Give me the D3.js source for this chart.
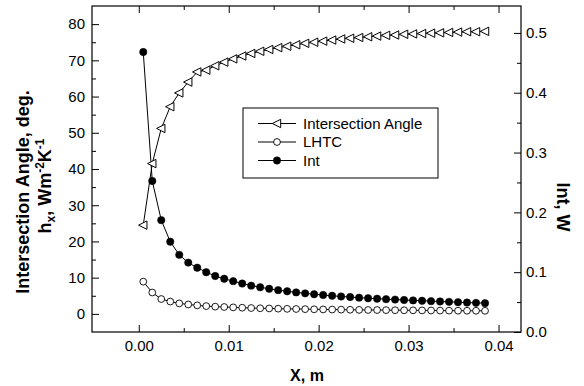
<!DOCTYPE html>
<html>
<head>
<meta charset="utf-8">
<script src="https://cdn.jsdelivr.net/npm/d3@7"></script>
<style>
  body { margin: 0; background: #fff; }
  svg { display: block; }
  text { font-family: "Liberation Sans", Arial, sans-serif; fill: #000; }
</style>
</head>
<body>
<svg id="chart" width="584" height="386"></svg>
<script>
// Distance along the surface, m
const xPositions = [
  0.0005, 0.0015, 0.0025, 0.0035, 0.0045, 0.0055, 0.0065, 0.0075, 0.0085, 0.0095,
  0.0105, 0.0115, 0.0125, 0.0135, 0.0145, 0.0155, 0.0165, 0.0175, 0.0185, 0.0195,
  0.0205, 0.0215, 0.0225, 0.0235, 0.0245, 0.0255, 0.0265, 0.0275, 0.0285, 0.0295,
  0.0305, 0.0315, 0.0325, 0.0335, 0.0345, 0.0355, 0.0365, 0.0375, 0.0385
];
// Intersection angle, deg (left axis)
const intersectionAngle = [
  24.5, 41.5, 51.2, 57.2, 61.0, 64.0, 66.8, 67.3, 68.5, 69.5,
  70.4, 71.2, 71.9, 72.5, 73.0, 73.5, 73.9, 74.3, 74.7, 75.0,
  75.3, 75.6, 75.9, 76.1, 76.3, 76.5, 76.7, 76.9, 77.0, 77.2,
  77.3, 77.4, 77.5, 77.6, 77.7, 77.8, 77.9, 77.9, 78.0
];
// Local heat transfer coefficient, W m^-2 K^-1 (left axis)
const lhtc = [
  8.9, 5.9, 4.1, 3.4, 2.9, 2.6, 2.35, 2.15, 2.0, 1.9,
  1.8, 1.7, 1.62, 1.55, 1.5, 1.44, 1.39, 1.35, 1.31, 1.27,
  1.23, 1.2, 1.17, 1.14, 1.11, 1.08, 1.06, 1.04, 1.02, 1.0,
  0.98, 0.96, 0.94, 0.92, 0.9, 0.88, 0.87, 0.86, 0.85
];
// Int, W (right axis)
const intPower = [
  0.468, 0.2525, 0.187, 0.151, 0.129, 0.116, 0.1075, 0.100, 0.0936, 0.089,
  0.085, 0.081, 0.0775, 0.0748, 0.0722, 0.070, 0.068, 0.0662, 0.0646, 0.0631,
  0.0618, 0.0605, 0.0594, 0.0584, 0.0574, 0.0565, 0.0557, 0.0549, 0.0542, 0.0535,
  0.0528, 0.0522, 0.0516, 0.051, 0.0504, 0.0498, 0.0492, 0.0487, 0.0482
];

const xTicks = [0, 0.01, 0.02, 0.03, 0.04];
const xTickLabels = ["0.00", "0.01", "0.02", "0.03", "0.04"];
const xMinorTicks = [0.005, 0.015, 0.025, 0.035];
const leftTicks = [0, 10, 20, 30, 40, 50, 60, 70, 80];
const leftMinorTicks = [5, 15, 25, 35, 45, 55, 65, 75];
const rightTicks = [0, 0.1, 0.2, 0.3, 0.4, 0.5];
const rightTickLabels = ["0.0", "0.1", "0.2", "0.3", "0.4", "0.5"];
const rightMinorTicks = [0.05, 0.15, 0.25, 0.35, 0.45];
const legendLabels = ["Intersection Angle", "LHTC", "Int"];

const svg = d3.select("#chart");
const frame = { left: 92, right: 521, top: 6, bottom: 332 };

const x = d3.scaleLinear().domain([-0.0052, 0.0425]).range([frame.left, frame.right]);
const yL = d3.scaleLinear().domain([-5, 85]).range([frame.bottom, frame.top]);
const yR = d3.scaleLinear().domain([0, 0.545]).range([frame.bottom, frame.top]);

const tickFont = "15px";

function styleAxis(g) {
  g.select(".domain").remove();
  g.selectAll(".tick line").attr("stroke", "#000").attr("stroke-width", 1);
  g.selectAll(".tick text").style("font-size", tickFont).attr("fill", "#000");
}

// Bottom axis (major + minor, ticks pointing inward)
svg.append("g").attr("transform", `translate(0,${frame.bottom})`)
  .call(d3.axisBottom(x).tickValues(xTicks).tickSize(-7).tickPadding(8)
    .tickFormat((d, i) => xTickLabels[i]))
  .call(styleAxis);
svg.append("g").attr("transform", `translate(0,${frame.bottom})`)
  .call(d3.axisBottom(x).tickValues(xMinorTicks).tickSize(-4).tickFormat(""))
  .call(styleAxis);
// Top axis mirrors the bottom ticks
svg.append("g").attr("transform", `translate(0,${frame.top})`)
  .call(d3.axisTop(x).tickValues(xTicks).tickSize(-7).tickFormat(""))
  .call(styleAxis);
svg.append("g").attr("transform", `translate(0,${frame.top})`)
  .call(d3.axisTop(x).tickValues(xMinorTicks).tickSize(-4).tickFormat(""))
  .call(styleAxis);

// Left axis
svg.append("g").attr("transform", `translate(${frame.left},0)`)
  .call(d3.axisLeft(yL).tickValues(leftTicks).tickSize(-7).tickPadding(7))
  .call(styleAxis);
svg.append("g").attr("transform", `translate(${frame.left},0)`)
  .call(d3.axisLeft(yL).tickValues(leftMinorTicks).tickSize(-4).tickFormat(""))
  .call(styleAxis);

// Right axis
svg.append("g").attr("transform", `translate(${frame.right},0)`)
  .call(d3.axisRight(yR).tickValues(rightTicks).tickSize(-7).tickPadding(5)
    .tickFormat((d, i) => rightTickLabels[i]))
  .call(styleAxis);
svg.append("g").attr("transform", `translate(${frame.right},0)`)
  .call(d3.axisRight(yR).tickValues(rightMinorTicks).tickSize(-4).tickFormat(""))
  .call(styleAxis);

// Plot frame
svg.append("rect")
  .attr("x", frame.left).attr("y", frame.top)
  .attr("width", frame.right - frame.left).attr("height", frame.bottom - frame.top)
  .attr("fill", "none").attr("stroke", "#000").attr("stroke-width", 1.2);

// Series
const series = [
  { values: intersectionAngle, y: yL, marker: "triangle" },
  { values: lhtc, y: yL, marker: "open" },
  { values: intPower, y: yR, marker: "filled" }
];

const trianglePath = "M-4.7,0L3.7,-4.2L3.7,4.2Z";

function drawMarker(sel, type) {
  if (type === "triangle") {
    sel.append("path").attr("d", trianglePath)
      .attr("fill", "#fff").attr("stroke", "#000").attr("stroke-width", 1);
  } else if (type === "open") {
    sel.append("circle").attr("r", 3.4)
      .attr("fill", "#fff").attr("stroke", "#000").attr("stroke-width", 0.9);
  } else {
    sel.append("circle").attr("r", 3.7)
      .attr("fill", "#000").attr("stroke", "#000").attr("stroke-width", 0.5);
  }
}

series.forEach(s => {
  const line = d3.line().x((d, i) => x(xPositions[i])).y(d => s.y(d));
  svg.append("path").datum(s.values)
    .attr("d", line).attr("fill", "none")
    .attr("stroke", "#000").attr("stroke-width", 1);
});

series.forEach(s => {
  const g = svg.append("g");
  s.values.forEach((v, i) => {
    const m = g.append("g").attr("transform", `translate(${x(xPositions[i])},${s.y(v)})`);
    drawMarker(m, s.marker);
  });
});

// Legend
const legend = svg.append("g");
legend.append("rect")
  .attr("x", 243).attr("y", 108).attr("width", 195).attr("height", 70)
  .attr("fill", "#fff").attr("stroke", "#000").attr("stroke-width", 1);
const legendRowY = d3.scalePoint().domain(legendLabels).range([123.5, 160.5]);
legendLabels.forEach((lab, i) => {
  const yy = legendRowY(lab);
  legend.append("line").attr("x1", 258).attr("x2", 296).attr("y1", yy).attr("y2", yy)
    .attr("stroke", "#000").attr("stroke-width", 1);
  const m = legend.append("g").attr("transform", `translate(277,${yy})`);
  drawMarker(m, series[i].marker);
  legend.append("text").attr("x", 303).attr("y", yy).attr("dy", "0.36em")
    .style("font-size", "15px").text(lab);
});

// Axis titles
svg.append("text")
  .attr("x", 307).attr("y", 381).attr("text-anchor", "middle")
  .style("font-size", "16px").style("font-weight", "bold").text("X, m");

svg.append("text")
  .attr("transform", "translate(29,192) rotate(-90)")
  .attr("text-anchor", "middle")
  .style("font-size", "18px").style("font-weight", "bold")
  .text("Intersection Angle,  deg.");

const hTitle = svg.append("text")
  .attr("transform", "translate(51,186) rotate(-90)")
  .attr("text-anchor", "middle")
  .style("font-size", "18px").style("font-weight", "bold");
hTitle.append("tspan").text("h");
hTitle.append("tspan").attr("dy", 4).style("font-size", "12px").text("x");
hTitle.append("tspan").attr("dy", -4).text(",  Wm");
hTitle.append("tspan").attr("dy", -7).style("font-size", "12px").text("-2");
hTitle.append("tspan").attr("dy", 7).text("K");
hTitle.append("tspan").attr("dy", -7).style("font-size", "12px").text("-1");

svg.append("text")
  .attr("transform", "translate(557,207) rotate(90)")
  .attr("text-anchor", "middle")
  .style("font-size", "18px").style("font-weight", "bold")
  .text("Int, W");
</script>
</body>
</html>
